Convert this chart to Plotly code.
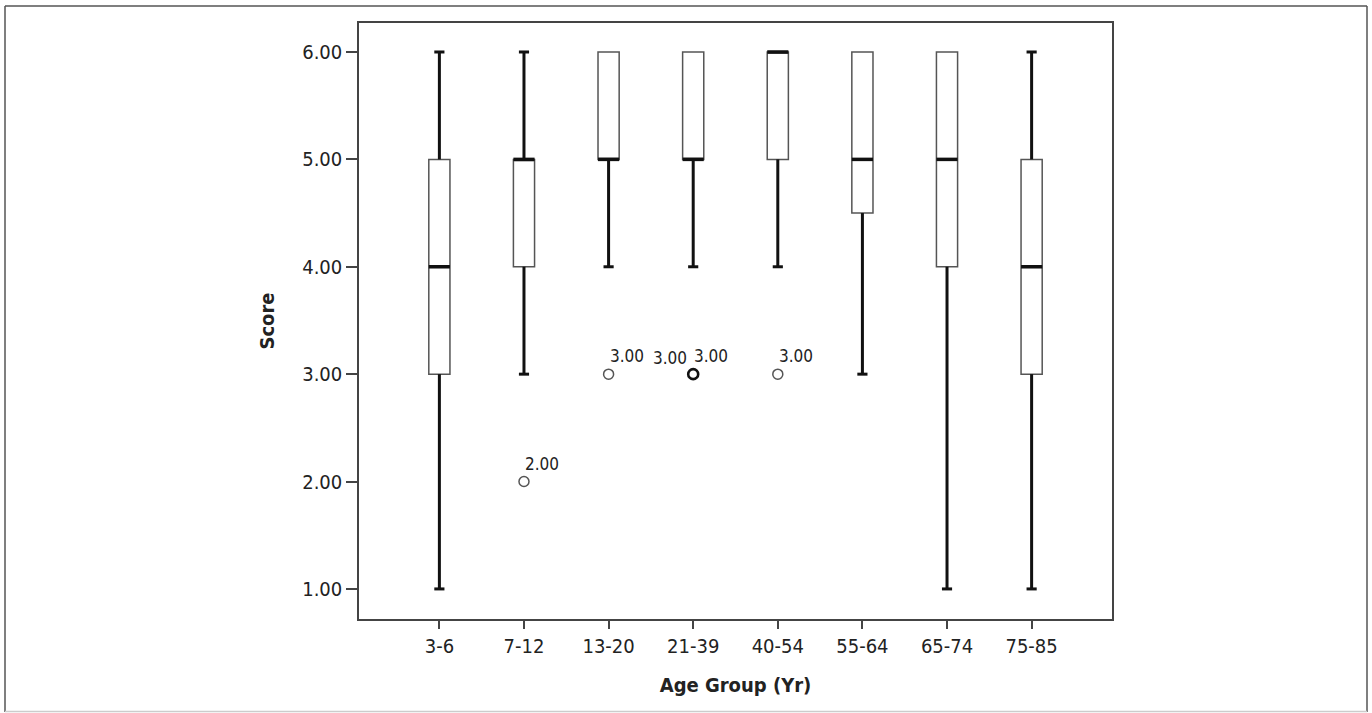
import plotly.graph_objects as go

# ---- data ----
categories = ["3-6", "7-12", "13-20", "21-39", "40-54", "55-64", "65-74", "75-85"]
mins = [1, 3, 4, 4, 4, 3, 1, 1]
q1s = [3, 4, 5, 5, 5, 4.5, 4, 3]
medians = [4, 5, 5, 5, 6, 5, 5, 4]
q3s = [5, 5, 6, 6, 6, 6, 6, 5]
maxs = [6, 6, 6, 6, 6, 6, 6, 6]

outlier_groups = ["7-12", "13-20", "21-39", "40-54"]
outlier_values = [2.0, 3.0, 3.0, 3.0]
outlier_counts = [1, 1, 2, 1]

y_ticks = [1, 2, 3, 4, 5, 6]
y_title = "Score"
x_title = "Age Group (Yr)"

FONT = "DejaVu Sans Condensed, Liberation Sans Narrow, sans-serif"
xpos = list(range(len(categories)))
BOXW = 0.25
CAPW = 0.06

fig = go.Figure()

# boxes
fig.add_trace(go.Box(
    x=xpos, q1=q1s, median=medians, q3=q3s, lowerfence=mins, upperfence=maxs,
    width=BOXW, whiskerwidth=0.0, boxpoints=False,
    line=dict(color="#555555", width=1.5), fillcolor="rgba(255,255,255,1)",
    showlegend=False, hoverinfo="skip",
))

# thick whiskers + caps
wx, wy = [], []
for i, lo, a, b, hi in zip(xpos, mins, q1s, q3s, maxs):
    if hi > b:
        wx += [i, i, None, i - CAPW, i + CAPW, None]
        wy += [b, hi, None, hi, hi, None]
    if lo < a:
        wx += [i, i, None, i - CAPW, i + CAPW, None]
        wy += [a, lo, None, lo, lo, None]
fig.add_trace(go.Scatter(x=wx, y=wy, mode="lines", line=dict(color="#111111", width=3),
                         showlegend=False, hoverinfo="skip"))

# medians
mx, my = [], []
for i, m in zip(xpos, medians):
    mx += [i - BOXW / 2, i + BOXW / 2, None]
    my += [m, m, None]
fig.add_trace(go.Scatter(x=mx, y=my, mode="lines", line=dict(color="#111111", width=3.5),
                         showlegend=False, hoverinfo="skip"))

# outliers
ox = [categories.index(g) for g in outlier_groups]
fig.add_trace(go.Scatter(
    x=ox, y=outlier_values, mode="markers",
    marker=dict(symbol="circle-open", size=10,
                color=["#111111" if c > 1 else "#555555" for c in outlier_counts],
                line=dict(width=[2.6 if c > 1 else 1.5 for c in outlier_counts])),
    showlegend=False, hoverinfo="skip",
))

for x, v, c in zip(ox, outlier_values, outlier_counts):
    fig.add_annotation(x=x, y=v, text=f"{v:.2f}", showarrow=False, xanchor="left",
                       yanchor="bottom", xshift=-1, yshift=6,
                       font=dict(family=FONT, size=17, color="#222222"))
    if c > 1:
        fig.add_annotation(x=x, y=v, text=f"{v:.2f}", showarrow=False, xanchor="right",
                           yanchor="bottom", xshift=-4, yshift=4,
                           font=dict(family=FONT, size=17, color="#222222"))

# outer frame
L, R, T, B = 359, 1112, 23, 619
W, H = 1372, 713
def px(x):
    return (x - L) / (R - L)
def py(y):
    return (B - y) / (B - T)
fig.add_shape(type="line", xref="paper", yref="paper", x0=px(5), x1=px(5), y0=py(6), y1=py(712),
              line=dict(color="#555555", width=1.5))
fig.add_shape(type="line", xref="paper", yref="paper", x0=px(1367), x1=px(1367), y0=py(6), y1=py(712),
              line=dict(color="#555555", width=1.5))
fig.add_shape(type="line", xref="paper", yref="paper", x0=px(5), x1=px(1367), y0=py(6), y1=py(6),
              line=dict(color="#555555", width=1.5))
fig.add_shape(type="line", xref="paper", yref="paper", x0=px(5), x1=px(1367), y0=py(711.5), y1=py(711.5),
              line=dict(color="#cccccc", width=1.5))

fig.update_layout(
    width=W, height=H,
    margin=dict(l=L, r=W - R, t=T, b=H - B),
    paper_bgcolor="white", plot_bgcolor="white",
    font=dict(family=FONT, size=20, color="#222222"),
)
fig.update_xaxes(
    range=[-0.95, 7.95], tickmode="array", tickvals=xpos, ticktext=categories,
    showgrid=False, zeroline=False, showline=True, mirror=True,
    linecolor="#444444", linewidth=1.5, ticks="outside", ticklen=8, tickwidth=1.5,
    tickcolor="#444444", tickfont=dict(size=20),
    title=dict(text=f"<b>{x_title}</b>", font=dict(size=20), standoff=21),
)
fig.update_yaxes(
    range=[0.72, 6.27], tickmode="array", tickvals=y_ticks,
    ticktext=[f"{t:.2f}" for t in y_ticks],
    showgrid=False, zeroline=False, showline=True, mirror=True,
    linecolor="#444444", linewidth=1.5, ticks="outside", ticklen=11, tickwidth=1.5,
    tickcolor="#444444", tickfont=dict(size=20),
    title=dict(text=f"<b>{y_title}</b>", font=dict(size=20), standoff=22),
)

fig.write_html("out.html", config={"displayModeBar": False},
               post_script="document.body.style.margin='0';document.body.style.overflow='hidden';")
